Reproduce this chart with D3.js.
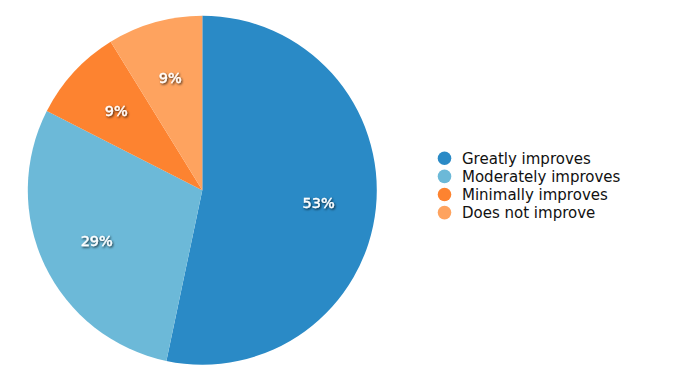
<!DOCTYPE html>
<html>
<head>
<meta charset="utf-8">
<script src="https://cdn.jsdelivr.net/npm/d3@7"></script>
<style>
  html, body { margin: 0; padding: 0; background: #fff; }
  svg { display: block; }
  text { font-family: "DejaVu Sans", Verdana, sans-serif; }
</style>
</head>
<body>
<svg id="chart" width="675" height="383"></svg>
<script>
const categories = ["Greatly improves", "Moderately improves", "Minimally improves", "Does not improve"];
const values = [53.3, 29.2, 8.7, 8.8];
const labels = ["53%", "29%", "9%", "9%"];
const colors = ["#2a8ac6", "#6cb9d8", "#fd8330", "#fea35f"];

const svg = d3.select("#chart");
const cx = 202.3, cy = 190.2, R = 174.5;

const defs = svg.append("defs");
const f = defs.append("filter").attr("id", "shadow")
  .attr("x", "-20%").attr("y", "-30%").attr("width", "140%").attr("height", "160%");
f.append("feDropShadow").attr("dx", 1).attr("dy", 1.2).attr("stdDeviation", 0.9)
  .attr("flood-color", "#000").attr("flood-opacity", 0.8);

const data = categories.map((c, i) => ({ cat: c, value: values[i], label: labels[i], color: colors[i] }));
const pie = d3.pie().value(d => d.value).sort(null);
const arcs = pie(data);
const arc = d3.arc().innerRadius(0).outerRadius(R);
const labelArc = d3.arc().innerRadius(117).outerRadius(117);

const g = svg.append("g").attr("transform", `translate(${cx},${cy})`);
g.selectAll("path.slice").data(arcs).join("path")
  .attr("class", "slice")
  .attr("d", arc)
  .attr("fill", d => d.data.color);

g.selectAll("text.lbl").data(arcs).join("text")
  .attr("class", "lbl")
  .attr("transform", d => `translate(${labelArc.centroid(d)})`)
  .attr("text-anchor", "middle")
  .attr("dy", "0.38em")
  .attr("font-size", 14.5)
  .attr("fill", "#fff")
  .attr("stroke", "#fff")
  .attr("stroke-width", 0.35)
  .attr("filter", "url(#shadow)")
  .text(d => d.data.label);

const legendY = d3.scalePoint().domain(categories).range([158.3, 212.6]);
const leg = svg.append("g");
const items = leg.selectAll("g").data(data).join("g")
  .attr("transform", d => `translate(0,${legendY(d.cat)})`);
items.append("circle").attr("cx", 444.5).attr("cy", 0).attr("r", 6.8).attr("fill", d => d.color);
items.append("text").attr("x", 462).attr("dy", "0.36em").attr("font-size", 15)
  .attr("fill", "#111").text(d => d.cat);
</script>
</body>
</html>
